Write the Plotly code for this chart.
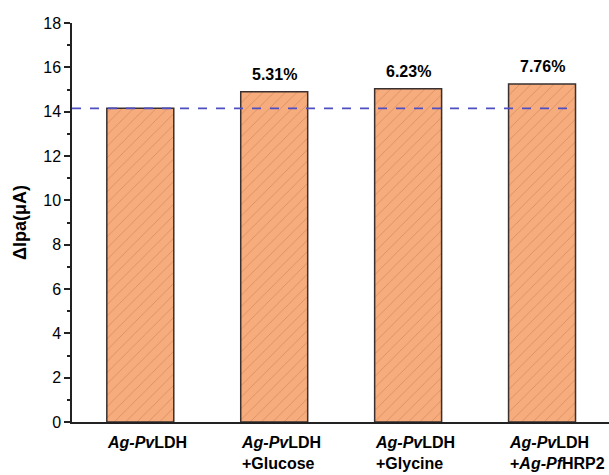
import plotly.graph_objects as go

categories = ["Ag-PvLDH", "Ag-PvLDH +Glucose", "Ag-PvLDH +Glycine", "Ag-PvLDH +Ag-PfHRP2"]
tick_labels = [
    "<b><i>Ag-Pv</i>LDH</b>",
    "<b><i>Ag-Pv</i>LDH<br>+Glucose</b>",
    "<b><i>Ag-Pv</i>LDH<br>+Glycine</b>",
    "<b><i>Ag-Pv</i>LDH<br>+<i>Ag-Pf</i>HRP2</b>",
]
values = [14.15, 14.90, 15.03, 15.25]
pct_labels = ["", "5.31%", "6.23%", "7.76%"]
baseline = values[0]

FONT = "Liberation Sans, Arial, sans-serif"
xs = list(range(len(categories)))

fig = go.Figure()
fig.add_trace(go.Bar(
    x=xs, y=values, width=0.5,
    marker=dict(
        color="#F6AC7C",
        line=dict(color="#3a3030", width=1.5),
        pattern=dict(shape="/", fgcolor="#B86C40", bgcolor="#F6AC7C", size=8, solidity=0.1),
    ),
    showlegend=False,
    hoverinfo="skip",
))

fig.add_shape(type="line", xref="x", yref="y", x0=-0.51, x1=3.25, y0=baseline, y1=baseline,
              line=dict(color="#4F4FC4", width=1.6, dash="dash"), layer="above")

for i, t in enumerate(pct_labels):
    if t:
        fig.add_annotation(x=i, y=values[i], text=f"<b>{t}</b>", showarrow=False,
                           yanchor="bottom", yshift=7, font=dict(size=16, color="black", family=FONT))

for i, t in enumerate(tick_labels):
    fig.add_annotation(x=i - 0.26, y=0, xref="x", yref="y", text=t, showarrow=False,
                       xanchor="left", yanchor="top", align="left", yshift=-10,
                       font=dict(size=16, color="black", family=FONT))

fig.update_layout(
    width=609, height=475,
    margin=dict(l=72, r=0, t=23, b=53),
    plot_bgcolor="white", paper_bgcolor="white",
    font=dict(family=FONT, size=16, color="black"),
    bargap=0.5,
)
fig.update_xaxes(range=[-0.51, 3.5], showticklabels=False, ticks="", showgrid=False,
                 showline=True, linecolor="#222", linewidth=1.5, zeroline=False)
fig.update_yaxes(range=[0, 18], dtick=2, tick0=0, ticks="outside", ticklen=6, tickwidth=1.5,
                 tickcolor="#222", showgrid=False, showline=True, linecolor="#222", linewidth=1.5,
                 zeroline=False, tickfont=dict(size=16, family=FONT),
                 minor=dict(dtick=1, ticks="outside", ticklen=3, tickwidth=1.5, tickcolor="#222"),
                 title=dict(text="<b>ΔIpa(μA)</b>", font=dict(size=18, family=FONT), standoff=12))

fig.write_html("out.html", config={"displayModeBar": False},
               post_script="document.body.style.margin='0';document.body.style.overflow='hidden';")
